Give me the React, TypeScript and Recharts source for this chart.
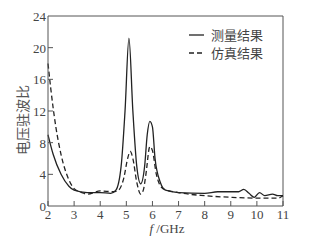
import { Line, LineChart, ReferenceLine, XAxis, YAxis } from 'recharts';

const measuredFreq = [2, 2.2, 2.5, 2.8, 3, 3.5, 4, 4.4, 4.6, 4.8, 4.95, 5.1, 5.25, 5.4, 5.55, 5.7, 5.8, 5.9, 6.0, 6.1, 6.3, 6.5, 7, 8, 8.5, 9, 9.3, 9.5, 9.7, 9.9, 10.1, 10.3, 10.6, 10.8, 11];
const measuredVswr = [9, 6.5, 4, 2.5, 2, 1.7, 1.7, 1.6, 2, 5, 12, 21.2, 12, 5, 2.8, 5, 9, 10.7, 10, 6, 3, 2, 1.7, 1.6, 1.8, 1.8, 1.8, 2.1, 1.6, 1.1, 1.7, 1.3, 1.5, 1.3, 1.3];

const simFreq = [2, 2.1, 2.3, 2.5, 2.8, 3, 3.3, 3.5, 4, 4.5, 4.7, 4.9, 5.05, 5.15, 5.25, 5.4, 5.55, 5.65, 5.75, 5.9, 6.0, 6.15, 6.4, 7, 8, 9, 10, 10.8, 11];
const simVswr = [18, 15, 10, 6.5, 3.3, 2.2, 1.7, 1.5, 1.9, 1.8, 2, 3.5, 6, 6.9, 6, 3, 1.5, 2, 4, 7.5, 7, 4, 2.2, 1.7, 1.3, 1.1, 1.0, 1.0, 1.3];

const seriesNames = ['测量结果', '仿真结果'];
const xTicks = [2, 3, 4, 5, 6, 7, 8, 9, 10, 11];
const yTicks = [0, 4, 8, 12, 16, 20, 24];

const measured = measuredFreq.map((f, i) => ({ f, v: measuredVswr[i] }));
const simulated = simFreq.map((f, i) => ({ f, v: simVswr[i] }));

const axisColor = '#555';
const lineColor = '#222';
const textColor = '#444';
const serif = '"Liberation Serif", "Times New Roman", serif';
const cjk = '"Noto Sans CJK SC", sans-serif';

const XTick = (props: any) => {
  const { x, y, payload } = props;
  return (
    <g>
      <line x1={x} x2={x} y1={y} y2={y - 5} stroke={axisColor} />
      <text x={x} y={y + 13} textAnchor="middle" fontSize={13} fontFamily={serif} fill={textColor}>
        {payload.value}
      </text>
    </g>
  );
};

const YTick = (props: any) => {
  const { x, y, payload } = props;
  return (
    <g>
      {payload.value !== 0 && payload.value !== 24 && (
        <line x1={x} x2={x + 5} y1={y} y2={y} stroke={axisColor} />
      )}
      <text x={x - 2} y={y + 5} textAnchor="end" fontSize={13} fontFamily={serif} fill={textColor}>
        {payload.value}
      </text>
    </g>
  );
};

export default function App() {
  return (
    <div style={{ position: 'absolute', left: 0, top: 0, width: 326, height: 241, background: '#fff' }}>
      <LineChart width={326} height={241} margin={{ top: 16, right: 43, bottom: 5, left: 18 }}>
        <XAxis
          dataKey="f"
          type="number"
          domain={[2, 11]}
          ticks={xTicks}
          allowDuplicatedCategory={false}
          height={30}
          tickSize={0}
          tickMargin={0}
          tickLine={false}
          tick={<XTick />}
          axisLine={{ stroke: axisColor }}
        />
        <YAxis
          type="number"
          domain={[0, 24]}
          ticks={yTicks}
          width={30}
          tickSize={0}
          tickMargin={0}
          tickLine={false}
          tick={<YTick />}
          axisLine={{ stroke: axisColor }}
        />
        <ReferenceLine y={24} stroke={axisColor} />
        <ReferenceLine x={11} stroke={axisColor} />
        <Line data={measured} dataKey="v" name={seriesNames[0]} type="monotone" stroke={lineColor} strokeWidth={1.3} dot={false} isAnimationActive={false} />
        <Line data={simulated} dataKey="v" name={seriesNames[1]} type="monotone" stroke={lineColor} strokeWidth={1.3} strokeDasharray="5 3" dot={false} isAnimationActive={false} />
      </LineChart>
      <div style={{ position: 'absolute', left: 189, top: 26, fontFamily: cjk, fontSize: 13, color: textColor, lineHeight: '18px' }}>
        {seriesNames.map((name, i) => (
          <div key={name} style={{ display: 'flex', alignItems: 'center' }}>
            <svg width={18} height={10} style={{ marginRight: 4 }}>
              <line x1={0} x2={15} y1={5} y2={5} stroke={lineColor} strokeWidth={1.3} strokeDasharray={i === 1 ? '5 3' : undefined} />
            </svg>
            {name}
          </div>
        ))}
      </div>
      <div style={{ position: 'absolute', left: 22, top: 120, transform: 'translate(-50%, -50%) rotate(-90deg)', fontFamily: cjk, fontSize: 14, color: '#555', whiteSpace: 'nowrap' }}>
        电压驻波比
      </div>
      <div style={{ position: 'absolute', left: 0, width: 326, top: 221, paddingLeft: 4, textAlign: 'center', fontFamily: serif, fontSize: 13, color: textColor }}>
        <i>f</i> /GHz
      </div>
    </div>
  );
}
